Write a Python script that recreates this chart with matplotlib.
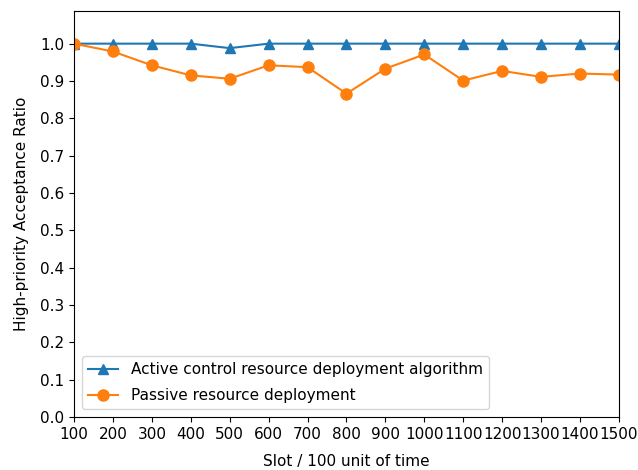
import matplotlib
matplotlib.use('Agg')
import matplotlib.pyplot as plt

# データ
slots = [100, 200, 300, 400, 500, 600, 700, 800, 900, 1000, 1100, 1200, 1300, 1400, 1500]
active = [1.0, 1.0, 1.0, 1.0, 0.988, 1.0, 1.0, 1.0, 1.0, 1.0, 1.0, 1.0, 1.0, 1.0, 1.0]
passive = [1.0, 0.979, 0.942, 0.915, 0.906, 0.942, 0.937, 0.866, 0.933, 0.971,
           0.901, 0.927, 0.911, 0.920, 0.917]

plt.rcParams['font.size'] = 11

fig, ax = plt.subplots(figsize=(6.38, 4.70), dpi=100)
fig.subplots_adjust(left=0.116, right=0.970, bottom=0.113, top=0.977)

ax.plot(slots, active, marker='^', markersize=7, color='#1f77b4',
        label='Active control resource deployment algorithm')
ax.plot(slots, passive, marker='o', markersize=8, color='#ff7f0e',
        label='Passive resource deployment')

ax.set_xlim(100, 1500)
ax.set_ylim(0, 1.088)
ax.set_xticks(slots)
ax.set_yticks([i / 10 for i in range(11)])
ax.set_xlabel('Slot / 100 unit of time', labelpad=9)
ax.set_ylabel('High-priority Acceptance Ratio', labelpad=8)
ax.legend(loc='lower left', labelspacing=0.7)

plt.savefig('out.png', dpi=100)
